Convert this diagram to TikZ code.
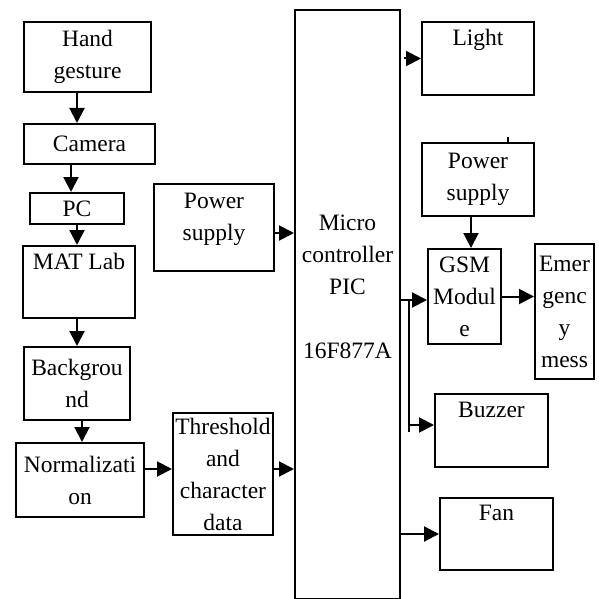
\documentclass[tikz,border=0pt]{standalone}
\usepackage{fontspec}
\setmainfont{Liberation Serif}
\usepackage{tikz}
\usetikzlibrary{arrows.meta, positioning, calc}

\begin{document}
\begin{tikzpicture}[
  x=1pt, y=-1pt,
  font=\fontsize{23.5}{32}\selectfont,
  line width=2pt,
  blk/.style={draw, anchor=north west, align=center, inner sep=0pt},
  arr/.style={-{Triangle[length=15pt,width=15pt]}}
]
  \useasboundingbox (0,0) rectangle (598,599);
  \node[blk, minimum width=127pt, minimum height=70pt] (hand) at (23,21) {Hand\\gesture};
  \node[blk, minimum width=131pt, minimum height=40pt] (camera) at (23,123) {Camera};
  \node[blk, minimum width=94pt, minimum height=31pt] (pc) at (29,192) {PC};
  \node[blk, minimum width=112pt, minimum height=72pt] (matlab) at (22,245) {MAT Lab\\\strut};
  \node[blk, minimum width=106pt, minimum height=73pt] (backgr) at (23,346) {Backgrou\\nd};
  \node[blk, minimum width=128pt, minimum height=74pt] (norm) at (15,442) {Normalizati\\on};
  \node[blk, minimum width=100pt, minimum height=122pt] (thresh) at (172,412) {Threshold\\and\\character\\data};
  \node[blk, minimum width=120pt, minimum height=87pt] (psupl) at (153,183) {Power\\supply\\[-20pt]\strut};
  \node[blk, minimum width=105pt, minimum height=589pt] (micro) at (294,9) {Micro\\controller\\PIC\\\strut\\16F877A\\[-6pt]\strut};
  \node[blk, minimum width=112pt, minimum height=73pt] (light) at (421,21) {Light\\\strut};
  \node[blk, minimum width=112pt, minimum height=73pt] (psupr) at (421,142) {Power\\supply};
  \node[blk, minimum width=73pt, minimum height=95pt] (gsm) at (427,248) {GSM\\Modul\\e};
  \node[blk, minimum width=59pt, minimum height=135pt] (emer) at (534,243) {Emer\\genc\\y\\mess};
  \node[blk, minimum width=113pt, minimum height=73pt] (buzzer) at (434,393) {Buzzer\\\strut};
  \node[blk, minimum width=113pt, minimum height=72pt] (fan) at (439,497) {Fan\\\strut};

  \draw[arr] ([xshift=-10.5pt]hand.south) -- ([xshift=-10.5pt]hand.south |- camera.north);
  \draw[arr] ([xshift=-18.5pt]camera.south) -- ([xshift=-18.5pt]camera.south |- pc.north);
  \draw[arr] (pc.south) -- (pc.south |- matlab.north);
  \draw[arr] ([xshift=-2pt]matlab.south) -- ([xshift=-2pt]matlab.south |- backgr.north);
  \draw[arr] ([xshift=5pt]backgr.south) -- ([xshift=5pt]backgr.south |- norm.north);
  \draw[arr] ([yshift=11pt]norm.east) -- ([yshift=11pt]norm.east -| thresh.west);
  \draw[arr] ([yshift=5pt]thresh.east) -- ([yshift=5pt]thresh.east -| micro.west);
  \draw[arr] ([yshift=-5.5pt]psupl.east) -- ([yshift=-5.5pt]psupl.east -| micro.west);
  \draw[arr] ([xshift=3pt]micro.east |- light.west) -- (light.west);
  \draw ([xshift=30pt]psupr.north) -- ++(0,-5);
  \draw[arr] ([xshift=-7pt]psupr.south) -- ([xshift=-7pt]psupr.south |- gsm.north);
  \coordinate (g) at ([yshift=-3.5pt]gsm.west);
  \draw[arr] (micro.east |- g) -- (g);
  \draw[arr] (gsm.east) -- (gsm.east -| emer.west);
  \coordinate (tap) at ($(micro.east |- g)+(8,0)$);
  \draw (tap) -- ++(0,132);
  \draw[arr] ([yshift=5.5pt]buzzer.west -| tap) -- ([yshift=5.5pt]buzzer.west);
  \draw[arr] (micro.east |- fan.west) -- (fan.west);
\end{tikzpicture}
\end{document}
